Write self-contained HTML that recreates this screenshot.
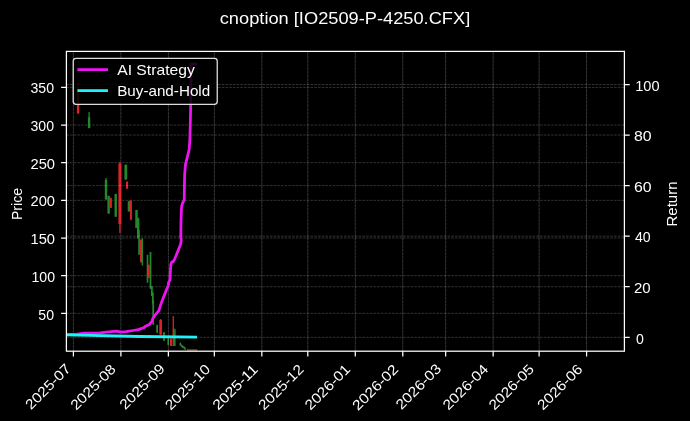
<!DOCTYPE html><html><head><meta charset="utf-8"><title>cnoption [IO2509-P-4250.CFX]</title><style>html,body{margin:0;padding:0;background:#000;}svg{display:block}text{font-family:"Liberation Sans",sans-serif;fill:#fff}</style></head><body><svg width="690" height="421" viewBox="0 0 690 421"><rect x="0" y="0" width="690" height="421" fill="#000"/><defs><clipPath id="ax"><rect x="66.4" y="51.4" width="558.0" height="299.8"/></clipPath></defs><path d="M73.40 351.2V51.4M120.89 351.2V51.4M168.38 351.2V51.4M214.34 351.2V51.4M261.83 351.2V51.4M307.79 351.2V51.4M355.28 351.2V51.4M402.77 351.2V51.4M445.66 351.2V51.4M493.15 351.2V51.4M539.11 351.2V51.4M586.60 351.2V51.4M66.4 313.30H624.4M66.4 275.65H624.4M66.4 238.00H624.4M66.4 200.35H624.4M66.4 162.70H624.4M66.4 125.05H624.4M66.4 87.40H624.4" stroke="#fff" stroke-opacity="0.28" stroke-width="0.7" stroke-dasharray="2.6 1.1" fill="none"/><g clip-path="url(#ax)"><path d="M78.1 83V113.5" stroke="#e0202a" stroke-width="1.3"/><rect x="76.90" y="92" width="2.4" height="21.50" fill="#e0202a"/><path d="M89.1 112V128.2" stroke="#22882a" stroke-width="1.3"/><rect x="87.90" y="117.3" width="2.4" height="10.70" fill="#22882a"/><path d="M106 177.9V200" stroke="#22882a" stroke-width="1.3"/><rect x="104.80" y="180" width="2.4" height="19.20" fill="#22882a"/><path d="M108.6 195.7V213.8" stroke="#22882a" stroke-width="1.3"/><rect x="107.40" y="196" width="2.4" height="17.50" fill="#22882a"/><path d="M110.9 197.8V208" stroke="#e0202a" stroke-width="1.3"/><rect x="110.10" y="198" width="1.6" height="9.80" fill="#e0202a"/><path d="M115.7 193.9V217" stroke="#22882a" stroke-width="1.3"/><rect x="114.50" y="194" width="2.4" height="22.60" fill="#22882a"/><path d="M119.9 162.1V233" stroke="#e0202a" stroke-width="1.3"/><rect x="118.40" y="163.6" width="3.0" height="60.40" fill="#e0202a"/><path d="M125.8 164.6V179.6" stroke="#22882a" stroke-width="1.3"/><rect x="124.40" y="164.8" width="2.8" height="14.80" fill="#22882a"/><path d="M127.1 181.4V188.9" stroke="#e0202a" stroke-width="1.3"/><rect x="126.10" y="181.8" width="2.0" height="6.70" fill="#e0202a"/><path d="M128.9 200.7V211.6" stroke="#22882a" stroke-width="1.3"/><rect x="127.70" y="201.4" width="2.4" height="10.00" fill="#22882a"/><path d="M130.9 200V220.2" stroke="#e0202a" stroke-width="1.3"/><rect x="130.00" y="200.6" width="1.8" height="18.90" fill="#e0202a"/><path d="M136.5 209.7V228" stroke="#22882a" stroke-width="1.3"/><rect x="135.30" y="210" width="2.4" height="18.00" fill="#22882a"/><path d="M138.2 217.6V239" stroke="#22882a" stroke-width="1.3"/><rect x="137.00" y="218.5" width="2.4" height="20.00" fill="#22882a"/><path d="M139.1 230V255" stroke="#22882a" stroke-width="1.3"/><rect x="138.50" y="239" width="1.2" height="15.50" fill="#22882a"/><path d="M141.2 239.4V262.8" stroke="#e0202a" stroke-width="1.3"/><rect x="140.10" y="239.7" width="2.2" height="22.30" fill="#e0202a"/><path d="M142.4 238.2V265.5" stroke="#22882a" stroke-width="1.3"/><rect x="141.90" y="240" width="1.0" height="25.40" fill="#22882a"/><path d="M147.5 254.7V282.5" stroke="#22882a" stroke-width="1.3"/><rect x="146.80" y="255" width="1.4" height="27.50" fill="#22882a"/><path d="M148.8 264.8V278" stroke="#e0202a" stroke-width="1.3"/><rect x="148.10" y="265" width="1.4" height="12.00" fill="#e0202a"/><path d="M150.5 251.9V289" stroke="#22882a" stroke-width="1.3"/><rect x="149.70" y="252" width="1.6" height="36.00" fill="#22882a"/><path d="M151.8 286V296" stroke="#22882a" stroke-width="1.3"/><rect x="151.00" y="287" width="1.6" height="9.00" fill="#22882a"/><path d="M152.8 292V304" stroke="#22882a" stroke-width="1.3"/><rect x="152.00" y="293" width="1.6" height="10.00" fill="#22882a"/><path d="M153.3 300V324.7" stroke="#22882a" stroke-width="1.3"/><rect x="152.50" y="301" width="1.6" height="23.70" fill="#22882a"/><path d="M157.2 324.7V333" stroke="#22882a" stroke-width="1.3"/><rect x="156.40" y="325" width="1.6" height="7.30" fill="#22882a"/><path d="M160.6 319V334.8" stroke="#e0202a" stroke-width="1.3"/><rect x="159.30" y="320" width="2.6" height="14.50" fill="#e0202a"/><path d="M164.0 332.2V341" stroke="#22882a" stroke-width="1.3"/><rect x="163.20" y="332.3" width="1.6" height="8.20" fill="#22882a"/><path d="M168.3 337V345" stroke="#22882a" stroke-width="1.3"/><rect x="167.60" y="337" width="1.4" height="8.00" fill="#22882a"/><path d="M170.9 337.4V346" stroke="#e0202a" stroke-width="1.3"/><rect x="169.90" y="338.9" width="2.0" height="7.10" fill="#e0202a"/><path d="M173.3 316V346" stroke="#e0202a" stroke-width="1.3"/><rect x="172.80" y="328" width="1.0" height="18.00" fill="#e0202a"/><path d="M174.8 328.7V346" stroke="#22882a" stroke-width="1.3"/><rect x="174.30" y="330" width="1.0" height="16.00" fill="#22882a"/><path d="M180.4 342.5V345.5" stroke="#22882a" stroke-width="1.3"/><rect x="179.70" y="343" width="1.4" height="2.50" fill="#22882a"/><path d="M181.6 344.5V347" stroke="#22882a" stroke-width="1.3"/><rect x="180.90" y="345" width="1.4" height="2.00" fill="#22882a"/><path d="M182.8 345.5V348" stroke="#22882a" stroke-width="1.3"/><rect x="182.10" y="346" width="1.4" height="2.00" fill="#22882a"/><path d="M184.2 346.5V348.5" stroke="#22882a" stroke-width="1.3"/><rect x="183.50" y="347" width="1.4" height="1.50" fill="#22882a"/><path d="M185.1 347.5V349.5" stroke="#22882a" stroke-width="1.3"/><rect x="184.40" y="348" width="1.4" height="1.50" fill="#22882a"/><path d="M187.5 349.3V350.6" stroke="#6a4a20" stroke-width="1.3"/><rect x="186.80" y="349.5" width="1.4" height="1.10" fill="#6a4a20"/><path d="M189 349.3V350.6" stroke="#6a4a20" stroke-width="1.3"/><rect x="188.30" y="349.5" width="1.4" height="1.10" fill="#6a4a20"/><path d="M190.5 349.3V350.6" stroke="#6a4a20" stroke-width="1.3"/><rect x="189.80" y="349.5" width="1.4" height="1.10" fill="#6a4a20"/><path d="M192 349.3V350.6" stroke="#6a4a20" stroke-width="1.3"/><rect x="191.30" y="349.5" width="1.4" height="1.10" fill="#6a4a20"/><path d="M193.5 349.3V350.6" stroke="#6a4a20" stroke-width="1.3"/><rect x="192.80" y="349.5" width="1.4" height="1.10" fill="#6a4a20"/><path d="M195 349.3V350.6" stroke="#6a4a20" stroke-width="1.3"/><rect x="194.30" y="349.5" width="1.4" height="1.10" fill="#6a4a20"/><path d="M196.5 349.3V350.6" stroke="#6a4a20" stroke-width="1.3"/><rect x="195.80" y="349.5" width="1.4" height="1.10" fill="#6a4a20"/></g><path d="M73.40 351.2V51.4M120.89 351.2V51.4M168.38 351.2V51.4M214.34 351.2V51.4M261.83 351.2V51.4M307.79 351.2V51.4M355.28 351.2V51.4M402.77 351.2V51.4M445.66 351.2V51.4M493.15 351.2V51.4M539.11 351.2V51.4M586.60 351.2V51.4" stroke="#fff" stroke-opacity="0.12" stroke-width="0.7" stroke-dasharray="2.6 1.1" stroke-dashoffset="1.8" fill="none"/><path d="M66.4 337.30H624.4M66.4 286.74H624.4M66.4 236.18H624.4M66.4 185.62H624.4M66.4 135.06H624.4M66.4 84.50H624.4" stroke="#fff" stroke-opacity="0.28" stroke-width="0.7" stroke-dasharray="2.6 1.1" fill="none"/><g clip-path="url(#ax)" fill="none" stroke-linejoin="round" stroke-linecap="square"><polyline points="66.4,334.5 76,334.3 84,333.2 90,333.1 100,332.8 108.7,331.8 116.5,331.1 120.9,332.1 126.1,331.7 133,330.5 138.3,329.6 143.5,327.8 145,326.6 149.3,324.5 151.9,321.3 153,318.1 155.7,314.3 158.9,310.6 160.5,305.3 161.5,302.6 163.7,296.7 165.8,291.4 168.5,285 168.5,282.7 170,279.9 170.4,271.3 170.9,264.2 171.8,262.1 173.5,261.4 174.9,258.5 177.8,251.4 180.6,244.3 181.3,240 180.8,237.4 181,221.4 181.6,206.4 182.6,203.2 184.2,200 184.4,185.6 184.7,173.8 185.5,164.3 187.3,157.1 189.1,150 189.9,139.2 190.3,123.8 190.7,104.8 191,64 195.6,64" stroke="#ee14f2" stroke-width="2.78"/><polyline points="66.4,334.9 90,335.4 140,336.5 195.6,337.1" stroke="#1ef2f8" stroke-width="2.78"/></g><rect x="66.4" y="51.4" width="558.00" height="299.80" fill="none" stroke="#fff" stroke-width="1.25"/><path d="M73.40 351.2v5.3M120.89 351.2v5.3M168.38 351.2v5.3M214.34 351.2v5.3M261.83 351.2v5.3M307.79 351.2v5.3M355.28 351.2v5.3M402.77 351.2v5.3M445.66 351.2v5.3M493.15 351.2v5.3M539.11 351.2v5.3M586.60 351.2v5.3M66.4 313.30h-5.3M66.4 275.65h-5.3M66.4 238.00h-5.3M66.4 200.35h-5.3M66.4 162.70h-5.3M66.4 125.05h-5.3M66.4 87.40h-5.3M624.4 337.30h5.3M624.4 286.74h5.3M624.4 236.18h5.3M624.4 185.62h5.3M624.4 135.06h5.3M624.4 84.50h5.3" stroke="#fff" stroke-width="1.25" fill="none"/><rect x="73.24" y="58.34" width="144.00" height="46.06" rx="2.8" fill="#000" fill-opacity="0.85" stroke="#ddd" stroke-width="1.3"/><path d="M78.8 69.6H106.58" stroke="#ee14f2" stroke-width="2.78" stroke-linecap="square"/><path d="M78.8 90.6H106.58" stroke="#1ef2f8" stroke-width="2.78" stroke-linecap="square"/><g class="txt" opacity="0.995"><text x="71.60" y="369.70" font-size="14.1" text-anchor="end" textLength="57.40" lengthAdjust="spacingAndGlyphs" transform="rotate(-45 71.60 369.70)">2025-07</text><text x="116.79" y="370.20" font-size="14.1" text-anchor="end" textLength="57.40" lengthAdjust="spacingAndGlyphs" transform="rotate(-45 116.79 370.20)">2025-08</text><text x="165.78" y="369.70" font-size="14.1" text-anchor="end" textLength="57.40" lengthAdjust="spacingAndGlyphs" transform="rotate(-45 165.78 369.70)">2025-09</text><text x="211.24" y="370.20" font-size="14.1" text-anchor="end" textLength="57.40" lengthAdjust="spacingAndGlyphs" transform="rotate(-45 211.24 370.20)">2025-10</text><text x="258.73" y="370.20" font-size="14.1" text-anchor="end" textLength="57.40" lengthAdjust="spacingAndGlyphs" transform="rotate(-45 258.73 370.20)">2025-11</text><text x="304.69" y="370.20" font-size="14.1" text-anchor="end" textLength="57.40" lengthAdjust="spacingAndGlyphs" transform="rotate(-45 304.69 370.20)">2025-12</text><text x="351.18" y="370.20" font-size="14.1" text-anchor="end" textLength="57.40" lengthAdjust="spacingAndGlyphs" transform="rotate(-45 351.18 370.20)">2026-01</text><text x="399.17" y="370.20" font-size="14.1" text-anchor="end" textLength="58.11" lengthAdjust="spacingAndGlyphs" transform="rotate(-45 399.17 370.20)">2026-02</text><text x="442.06" y="369.70" font-size="14.1" text-anchor="end" textLength="57.40" lengthAdjust="spacingAndGlyphs" transform="rotate(-45 442.06 369.70)">2026-03</text><text x="489.05" y="370.20" font-size="14.1" text-anchor="end" textLength="57.40" lengthAdjust="spacingAndGlyphs" transform="rotate(-45 489.05 370.20)">2026-04</text><text x="535.01" y="370.20" font-size="14.1" text-anchor="end" textLength="57.40" lengthAdjust="spacingAndGlyphs" transform="rotate(-45 535.01 370.20)">2026-05</text><text x="583.50" y="370.20" font-size="14.1" text-anchor="end" textLength="57.40" lengthAdjust="spacingAndGlyphs" transform="rotate(-45 583.50 370.20)">2026-06</text><text x="54.00" y="320.00" font-size="14.1" text-anchor="end" textLength="15.68" lengthAdjust="spacingAndGlyphs">50</text><text x="55.00" y="282.00" font-size="14.1" text-anchor="end" textLength="23.52" lengthAdjust="spacingAndGlyphs">100</text><text x="55.00" y="244.00" font-size="14.1" text-anchor="end" textLength="24.52" lengthAdjust="spacingAndGlyphs">150</text><text x="55.00" y="206.00" font-size="14.1" text-anchor="end" textLength="24.52" lengthAdjust="spacingAndGlyphs">200</text><text x="55.00" y="169.00" font-size="14.1" text-anchor="end" textLength="24.52" lengthAdjust="spacingAndGlyphs">250</text><text x="54.00" y="131.00" font-size="14.1" text-anchor="end" textLength="23.52" lengthAdjust="spacingAndGlyphs">300</text><text x="54.00" y="93.00" font-size="14.1" text-anchor="end" textLength="23.52" lengthAdjust="spacingAndGlyphs">350</text><text x="636.00" y="344.00" font-size="14.1" textLength="7.84" lengthAdjust="spacingAndGlyphs">0</text><text x="634.00" y="293.00" font-size="14.1" textLength="16.68" lengthAdjust="spacingAndGlyphs">20</text><text x="635.00" y="242.00" font-size="14.1" textLength="15.68" lengthAdjust="spacingAndGlyphs">40</text><text x="634.00" y="192.00" font-size="14.1" textLength="17.68" lengthAdjust="spacingAndGlyphs">60</text><text x="634.00" y="141.00" font-size="14.1" textLength="17.68" lengthAdjust="spacingAndGlyphs">80</text><text x="635.20" y="91.00" font-size="14.1" textLength="24.32" lengthAdjust="spacingAndGlyphs">100</text><text x="21.90" y="204.00" font-size="14.4" text-anchor="middle" textLength="31.90" lengthAdjust="spacingAndGlyphs" transform="rotate(-90 21.90 204.00)">Price</text><text x="676.50" y="204.00" font-size="14.4" text-anchor="middle" textLength="45.00" lengthAdjust="spacingAndGlyphs" transform="rotate(-90 676.50 204.00)">Return</text><text x="345.00" y="23.70" font-size="17.2" text-anchor="middle" textLength="250.50" lengthAdjust="spacingAndGlyphs">cnoption [IO2509-P-4250.CFX]</text><text x="117.20" y="74.70" font-size="14.4" textLength="77.60" lengthAdjust="spacingAndGlyphs">AI Strategy</text><text x="117.20" y="95.50" font-size="14.4" textLength="93.00" lengthAdjust="spacingAndGlyphs">Buy-and-Hold</text></g></svg></body></html>
